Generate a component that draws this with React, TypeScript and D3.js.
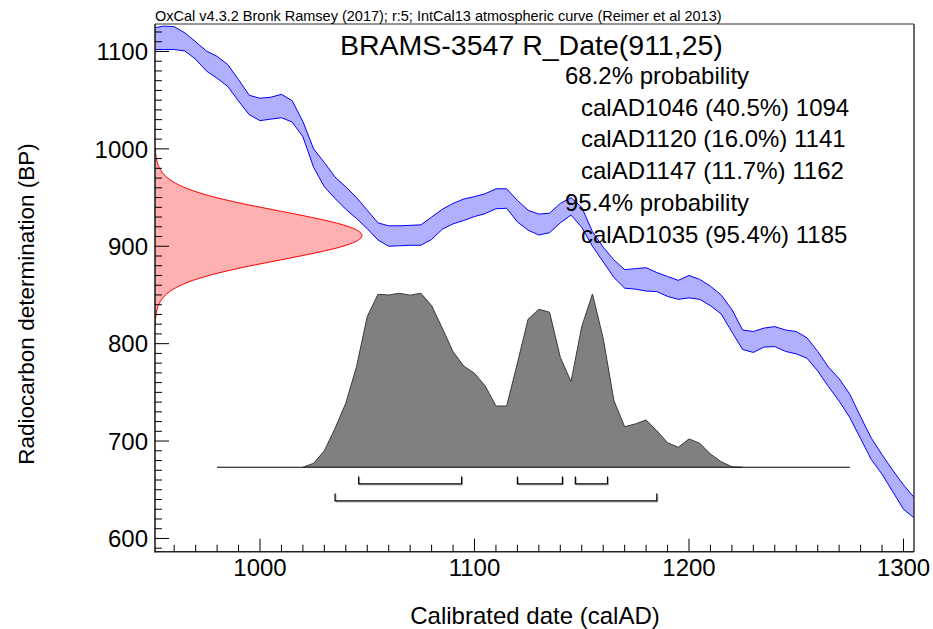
import React from 'react';
import * as d3 from 'd3';

// IntCal13 band: years (calAD), upper and lower edge (BP)
const calYears = [
  950, 955, 960, 965, 970, 975, 980, 985, 990, 995, 1000, 1005, 1010, 1015, 1020, 1025, 1030, 1035,
  1040, 1045, 1050, 1055, 1060, 1065, 1070, 1075, 1080, 1085, 1090, 1095, 1100, 1105, 1110, 1115,
  1120, 1125, 1130, 1135, 1140, 1145, 1150, 1155, 1160, 1165, 1170, 1175, 1180, 1185, 1190, 1195,
  1200, 1205, 1210, 1215, 1220, 1225, 1230, 1235, 1240, 1245, 1250, 1255, 1260, 1265, 1270, 1275,
  1280, 1285, 1290, 1295, 1300, 1305,
];
const calUpper = [
  1124, 1126, 1125.5, 1119, 1110, 1100.5, 1095, 1086.5, 1071, 1055, 1052, 1053, 1056, 1049.5, 1028, 1000, 986, 971,
  961, 950, 937, 924, 921, 921, 921.5, 922, 930, 938, 944, 948.5, 951, 954, 959, 959,
  947, 937, 933, 934, 944, 950, 940, 915, 899, 886, 876, 877, 878, 873, 869, 865,
  870, 866, 859, 850, 835, 814, 812.5, 816, 817.5, 814, 812.5, 806, 792, 776, 764, 748,
  725, 703, 686, 670, 655, 642,
];
const calLower = [
  1102, 1102, 1102, 1100.5, 1092, 1080, 1072.5, 1064, 1049, 1035, 1029, 1030.5, 1032, 1027.5, 1012.5, 981, 961, 949,
  938, 928.5, 918, 906.5, 900, 900.5, 901, 901, 907, 917.5, 923, 926.5, 930.5, 933.5, 938.5, 939,
  925, 916.5, 911.5, 914, 924, 932, 919.5, 900, 884, 868, 857, 856, 854, 853.5, 848.5, 845.5,
  847, 845.5, 839, 830.5, 812, 794, 791, 796.5, 797, 792, 789.5, 785, 772, 756, 741, 724,
  702.5, 681, 666, 648, 630, 621,
];

// R_Date(911,25): radiocarbon likelihood (BP, relative density)
const rdateBP = [
  1001, 996, 991, 986, 981, 976, 971, 966, 961, 956, 951, 946, 941, 936, 931, 926, 921, 916, 911,
  906, 901, 896, 891, 886, 881, 876, 871, 866, 861, 856, 851, 846, 841, 836, 831, 826, 821,
];
const rdateDensity = [
  0.0015, 0.003, 0.006, 0.011, 0.02, 0.034, 0.056, 0.089, 0.135, 0.198, 0.278, 0.375, 0.487, 0.607, 0.726, 0.835, 0.923, 0.98, 1,
  0.98, 0.923, 0.835, 0.726, 0.607, 0.487, 0.375, 0.278, 0.198, 0.135, 0.089, 0.056, 0.034, 0.02, 0.011, 0.006, 0.003, 0.0015,
];

// calibrated posterior (calAD, relative probability)
const postYears = [
  1020, 1025, 1030, 1035, 1040, 1045, 1050, 1055, 1060, 1065, 1070, 1075, 1080, 1085, 1090, 1095, 1100,
  1105, 1110, 1115, 1120, 1125, 1130, 1135, 1140, 1145, 1150, 1155, 1160, 1165, 1170, 1175, 1180, 1185,
  1190, 1195, 1200, 1205, 1210, 1215, 1220, 1225,
];
const postProb = [
  0, 0.023, 0.095, 0.224, 0.368, 0.578, 0.866, 0.994, 0.99, 1, 0.989, 1, 0.929, 0.799, 0.664, 0.582, 0.54,
  0.467, 0.352, 0.352, 0.598, 0.851, 0.908, 0.891, 0.632, 0.492, 0.808, 0.996, 0.741, 0.383, 0.233, 0.249, 0.272, 0.21,
  0.141, 0.115, 0.163, 0.138, 0.076, 0.032, 0.003, 0,
];
const postSpan = [980, 1275];

const ranges68 = [[1046, 1094], [1120, 1141], [1147, 1162]];
const ranges95 = [[1035, 1185]];

const xMajor = [1000, 1100, 1200, 1300];
const yMajor = [600, 700, 800, 900, 1000, 1100];

const headerText = 'OxCal v4.3.2 Bronk Ramsey (2017); r:5; IntCal13 atmospheric curve (Reimer et al 2013)';
const titleText = 'BRAMS-3547 R_Date(911,25)';
const summaryLines = [
  { text: '68.2% probability', indent: false },
  { text: 'calAD1046 (40.5%) 1094', indent: true },
  { text: 'calAD1120 (16.0%) 1141', indent: true },
  { text: 'calAD1147 (11.7%) 1162', indent: true },
  { text: '95.4% probability', indent: false },
  { text: 'calAD1035 (95.4%) 1185', indent: true },
];

const W = 933;
const H = 629;
const FONT = '"Liberation Sans", Arial, sans-serif';

export default function App() {
  const left = 155, right = 914, top = 24, bottom = 551.7;

  const x = d3.scaleLinear().domain([951.05, 1304.9]).range([left, right]);
  const y = d3.scaleLinear().domain([586.4, 1128.2]).range([bottom, top]);
  // red likelihood hangs off the y axis
  const dens = d3.scaleLinear().domain([0, 1]).range([left, 362]);
  // posterior sits on its own baseline
  const base = y(673.1);
  const prob = d3.scaleLinear().domain([0, 1]).range([base, base - 174]);

  const band = d3.area<number>()
    .x((_, i) => x(calYears[i]))
    .y0((_, i) => y(calLower[i]))
    .y1((_, i) => y(calUpper[i]));

  const redArea = d3.area<number>()
    .y((_, i) => y(rdateBP[i]))
    .x0(dens(0))
    .x1((d) => dens(d))
    .curve(d3.curveMonotoneY);
  const redLine = d3.line<number>()
    .y((_, i) => y(rdateBP[i]))
    .x((d) => dens(d))
    .curve(d3.curveMonotoneY);

  const postArea = d3.area<number>()
    .x((_, i) => x(postYears[i]))
    .y0(base)
    .y1((d) => prob(d));
  const postLine = d3.line<number>()
    .x((_, i) => x(postYears[i]))
    .y((d) => prob(d));

  const xMinor = d3.range(960, 1305, 10).filter((v) => v % 100 !== 0);
  const yMinor = d3.range(590, 1128, 10).filter((v) => v % 100 !== 0);

  const bracket = (r: number[], yy: number, k: string) => {
    const d = `M${x(r[0])},${yy - 7.5}V${yy}H${x(r[1])}V${yy - 7.5}`;
    return (
      <g key={k}>
        <path d={d} transform="translate(1,1)" fill="none" stroke="#b0b0b0" strokeWidth={1} />
        <path d={d} fill="none" stroke="#000" strokeWidth={1.2} />
      </g>
    );
  };

  return (
    <svg width={W} height={H} style={{ position: 'absolute', left: 0, top: 0, background: '#fff' }} fontFamily={FONT}>
      <defs>
        <clipPath id="plot">
          <rect x={left} y={top} width={right - left} height={bottom - top} />
        </clipPath>
      </defs>
      <rect width={W} height={H} fill="#fff" />

      <g clipPath="url(#plot)">
        <path d={band(calUpper) || ''} fill="#b0b0ff" stroke="#0000ff" strokeWidth={1} />
        <path d={redArea(rdateDensity) || ''} fill="#ffb0b0" stroke="none" />
        <path d={redLine(rdateDensity) || ''} fill="none" stroke="#ff0000" strokeWidth={1} />
        <path d={postArea(postProb) || ''} fill="#808080" stroke="none" />
        <path d={postLine(postProb) || ''} fill="none" stroke="#3a3a3a" strokeWidth={1} />
        <line x1={x(postSpan[0])} x2={x(postSpan[1])} y1={base} y2={base} stroke="#000" strokeWidth={1.2} />
        {ranges68.map((r, i) => bracket(r, base + 16.7, 'a' + i))}
        {ranges95.map((r, i) => bracket(r, base + 33.7, 'b' + i))}
      </g>

      {/* frame */}
      <line x1={left} x2={right} y1={top} y2={top} stroke="#333" strokeWidth={1.2} />
      <line x1={right} x2={right} y1={top} y2={bottom} stroke="#444" strokeWidth={1.6} />
      <line x1={left} x2={left} y1={top} y2={bottom + 0.8} stroke="#222" strokeWidth={1.6} />
      <line x1={left} x2={right} y1={bottom} y2={bottom} stroke="#222" strokeWidth={1.6} />

      {/* x ticks */}
      {xMinor.map((v) => (
        <line key={'xm' + v} x1={x(v)} x2={x(v)} y1={bottom} y2={bottom - 7} stroke="#000" />
      ))}
      {xMajor.map((v) => (
        <g key={'xM' + v}>
          <line x1={x(v)} x2={x(v)} y1={bottom} y2={bottom - 13} stroke="#000" />
          <text x={x(v)} y={576} fontSize={24} textAnchor="middle" fill="#000">{v}</text>
        </g>
      ))}

      {/* y ticks */}
      {yMinor.map((v) => (
        <line key={'ym' + v} x1={left} x2={left + 7} y1={y(v)} y2={y(v)} stroke="#000" />
      ))}
      {yMajor.map((v) => (
        <g key={'yM' + v}>
          <line x1={left} x2={left + 14} y1={y(v)} y2={y(v)} stroke="#000" />
          <text x={148} y={y(v)} dy="0.36em" fontSize={24} textAnchor="end" fill="#000">{v}</text>
        </g>
      ))}

      {/* axis titles */}
      <text x={535} y={624} fontSize={24} textAnchor="middle" fill="#000">Calibrated date (calAD)</text>
      <text transform="translate(34,304) rotate(-90)" fontSize={22.5} textAnchor="middle" fill="#000">
        Radiocarbon determination (BP)
      </text>

      {/* header and titles */}
      <text x={155} y={20.5} fontSize={14.5} fill="#000">{headerText}</text>
      <text x={340} y={55} fontSize={28.5} fill="#000">{titleText}</text>
      {summaryLines.map((l, i) => (
        <text key={l.text} x={l.indent ? 581 : 565} y={84 + i * 31.7} fontSize={24} fill="#000">
          {l.text}
        </text>
      ))}
    </svg>
  );
}
